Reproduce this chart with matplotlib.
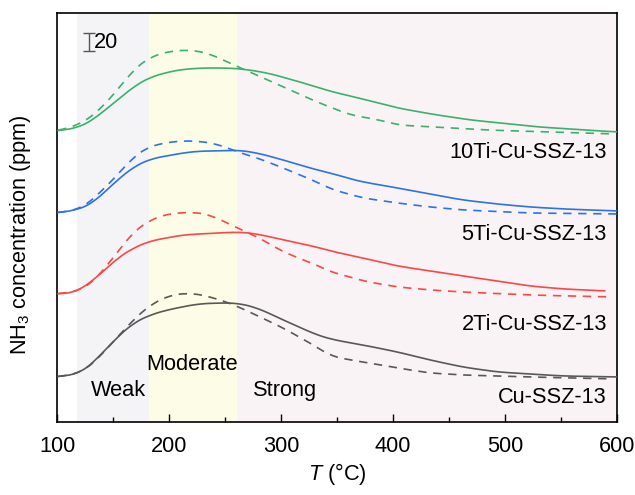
import numpy as np
import matplotlib
matplotlib.use('Agg')
import matplotlib.pyplot as plt

plt.rcParams['font.family'] = ['Liberation Sans', 'DejaVu Sans']
plt.rcParams['mathtext.fontset'] = 'custom'
plt.rcParams['mathtext.rm'] = 'Liberation Sans'
plt.rcParams['mathtext.it'] = 'Liberation Sans:italic'

# ---- data (T in degC, NH3 in ppm, curves offset for stacking) ----
cu_T       = [101, 121, 132, 154, 168, 183, 198, 225, 243, 261, 279, 302, 332, 344, 362, 373, 404, 433, 462, 493, 522, 552, 600]
cu_solid   = [50, 54.4, 65.6, 94.4, 110, 118.9, 124.4, 131.1, 132.2, 132.2, 126.7, 113.3, 96.7, 92.2, 87.8, 85.6, 77.8, 68.9, 61.1, 55.6, 53.3, 51.1, 50]
cu_dT      = [101, 123, 138, 154, 168, 183, 201, 219, 234, 254, 272, 302, 332, 344, 362, 373, 404, 433, 462, 522, 596]
cu_dash    = [50, 55.6, 72.2, 94.4, 113.3, 130, 141.1, 143.3, 140, 132.2, 122.2, 104.4, 83.3, 73.3, 68.9, 66.7, 60, 54.4, 52.2, 50, 47.8]

ti2_T      = [101, 118, 138, 154, 168, 183, 212, 243, 263, 279, 302, 332, 344, 373, 404, 433, 462, 493, 522, 552, 589]
ti2_solid  = [142.2, 144.4, 163.3, 182.2, 193.3, 201.1, 207.8, 210, 211.1, 208.9, 202.2, 194.4, 190, 182.2, 173.3, 167.8, 162.2, 156.7, 151.1, 147.8, 145.6]
ti2_dT     = [101, 123, 138, 154, 168, 183, 198, 221, 237, 261, 279, 302, 332, 344, 362, 373, 404, 433, 462, 522, 594]
ti2_dash   = [142.2, 146.7, 163.3, 188.9, 211.1, 224.4, 231.1, 233.3, 230, 215.6, 205.6, 188.9, 174.4, 166.7, 161.1, 156.7, 150, 146.7, 144.4, 141.1, 138.9]

ti5_T      = [101, 121, 132, 154, 168, 183, 212, 228, 243, 261, 279, 302, 332, 344, 362, 373, 404, 433, 462, 493, 522, 552, 600]
ti5_solid  = [232.2, 236.7, 243.3, 268.9, 283.3, 292.2, 298.9, 301.1, 301.1, 302.2, 298.9, 291.1, 280, 276.7, 270, 266.7, 260, 253.3, 246.7, 242.2, 238.9, 236.7, 234.4]
ti5_dT     = [101, 123, 138, 154, 168, 183, 207, 225, 243, 261, 279, 302, 332, 344, 373, 404, 433, 462, 522, 600]
ti5_dash   = [232.2, 237.8, 254.4, 274.4, 294.4, 306.7, 312.2, 312.2, 308.9, 300, 293.3, 282.2, 266.7, 258.9, 248.9, 243.3, 238.9, 235.6, 232.2, 231.1]

ti10_T     = [101, 121, 132, 154, 168, 183, 207, 228, 252, 266, 288, 317, 346, 362, 404, 435, 469, 530, 600]
ti10_solid = [323.3, 327.8, 335.6, 357.8, 372.2, 383.3, 391.1, 393.3, 393.3, 392.2, 387.8, 377.8, 366.7, 362.2, 348.9, 342, 335.6, 327.8, 322.2]
ti10_dT    = [101, 123, 138, 154, 168, 183, 201, 221, 237, 254, 272, 302, 332, 362, 388, 404, 484, 596]
ti10_dash  = [323.3, 332.2, 346.7, 368.9, 391.1, 405.6, 412.2, 413.3, 408.9, 398.9, 388.9, 372.2, 355.6, 341.1, 335.6, 330, 324.4, 320]

labels = ['Cu-SSZ-13', '2Ti-Cu-SSZ-13', '5Ti-Cu-SSZ-13', '10Ti-Cu-SSZ-13']
colors = ['#585858', '#f94848', '#2c73e3', '#3cb06c']
regions = [(118, 182, '#f4f4f6'), (182, 261, '#fdfde7'), (261, 600, '#faf3f6')]


def smooth(T, y, step=1.0, win=21):
    x = np.arange(T[0], T[-1] + step, step)
    v = np.interp(x, T, y)
    k = np.ones(win) / win
    pad = win // 2
    vp = np.concatenate([np.full(pad, v[0]), v, np.full(pad, v[-1])])
    return x, np.convolve(vp, k, mode='valid')


fig = plt.figure(figsize=(6.35, 4.95), dpi=100)
ax = fig.add_axes([0.0898, 0.1475, 0.8819, 0.8262])

for a, b, c in regions:
    ax.axvspan(a, b, color=c, zorder=0, lw=0)

series = [(cu_T, cu_solid, cu_dT, cu_dash),
          (ti2_T, ti2_solid, ti2_dT, ti2_dash),
          (ti5_T, ti5_solid, ti5_dT, ti5_dash),
          (ti10_T, ti10_solid, ti10_dT, ti10_dash)]
for (T, s, dT, d), col in zip(series, colors):
    x, y = smooth(T, s)
    ax.plot(x, y, color=col, lw=1.2, zorder=3)
    x, y = smooth(dT, d)
    ax.plot(x, y, color=col, lw=1.2, ls=(0, (5, 4)), zorder=3)

fs = 15.7
# curve labels
lab_y = [27, 108, 208, 299]
for lab, yy in zip(labels, lab_y):
    ax.text(591, yy, lab, ha='right', va='center', fontsize=fs)

ax.text(155, 35, 'Weak', ha='center', va='center', fontsize=fs)
ax.text(221, 64, 'Moderate', ha='center', va='center', fontsize=fs)
ax.text(304, 35, 'Strong', ha='center', va='center', fontsize=fs)

# 20 ppm scale bar
ax.errorbar([128.5], [422], yerr=[10], color='#555555', capsize=4, lw=1, capthick=1)
ax.text(132.5, 422, '20', ha='left', va='center', fontsize=fs)

ax.set_xlim(100, 600)
ax.set_ylim(0, 454.4)
ax.set_xticks([100, 200, 300, 400, 500, 600])
ax.set_xticks([150, 250, 350, 450, 550], minor=True)
ax.set_yticks([])
ax.tick_params(axis='x', which='major', direction='in', length=6, width=1, labelsize=fs, pad=10)
ax.tick_params(axis='x', which='minor', direction='in', length=3.5, width=1)
for sp in ax.spines.values():
    sp.set_linewidth(1.2)

ax.set_xlabel('$T$ (°C)', fontsize=fs, labelpad=3)
ax.set_ylabel('NH$_3$ concentration (ppm)', fontsize=fs)
ax.yaxis.set_label_coords(-0.043, 0.457)

plt.savefig('out.png', dpi=100)
